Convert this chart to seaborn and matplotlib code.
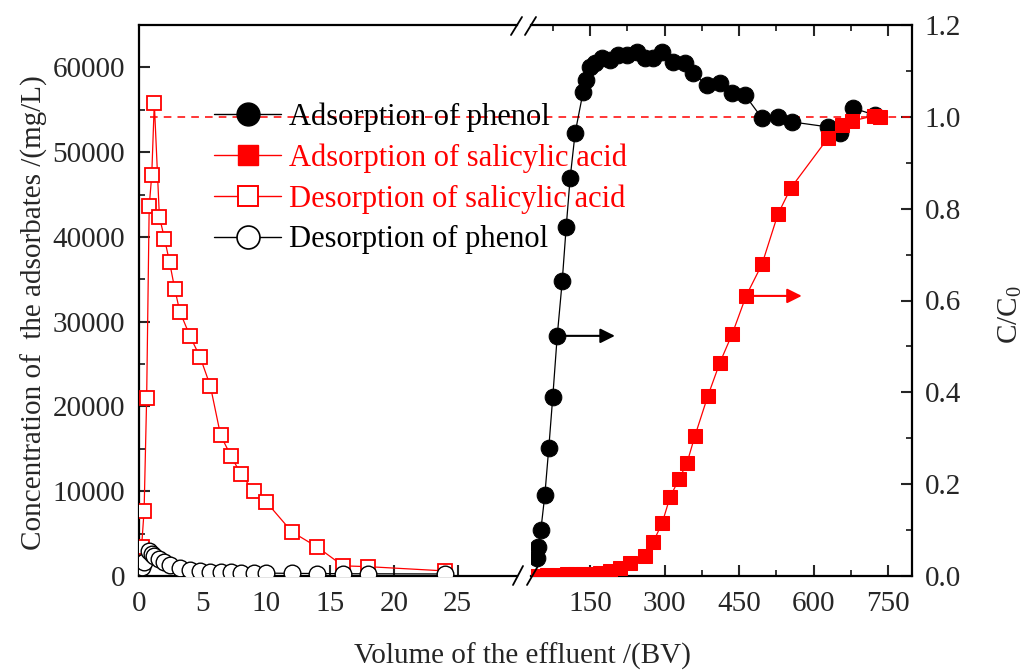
import matplotlib
matplotlib.use("Agg")
import matplotlib.pyplot as plt
import seaborn as sns
from matplotlib.lines import Line2D
from matplotlib.ticker import MultipleLocator, FormatStrFormatter

# ---------------- data ----------------
# Desorption (left axis, concentration mg/L), x in BV (0-30 segment)
des_sal_bv = [0.2, 0.4, 0.6, 0.8, 1.0, 1.2, 1.6, 2.0, 2.4, 2.8, 3.2, 4.0, 4.8, 5.6, 6.4,
              7.2, 8.0, 9.0, 10, 12, 14, 16, 18, 24]
des_sal = [3400, 7700, 21000, 43600, 47300, 55800, 42400, 39800, 37000, 33900, 31200,
           28300, 25800, 22400, 16600, 14200, 12000, 10000, 8700, 5200, 3400, 1200, 1100, 600]

des_phe_bv = [0.2, 0.4, 0.8, 1.0, 1.2, 1.6, 2.0, 2.4, 3.2, 4.0, 4.8, 5.6, 6.4, 7.2, 8.0,
              9.0, 10, 12, 14, 16, 18, 24]
des_phe = [1100, 1600, 2900, 2600, 2400, 2000, 1600, 1300, 950, 750, 600, 520, 460, 420,
           390, 360, 340, 310, 290, 270, 260, 240]

# Adsorption (right axis, C/C0), x in BV (30-800 segment)
ads_phe_bv = [43, 45, 51, 59, 67, 75, 84, 94, 102, 110, 120, 136, 142, 150, 160, 174, 190,
              206, 224, 244, 261, 277, 295, 317, 341, 357, 385, 411, 436, 462, 496, 528,
              556, 629, 653, 679, 723]
ads_phe = [0.039, 0.063, 0.100, 0.176, 0.279, 0.390, 0.523, 0.642, 0.760, 0.867, 0.965,
           1.054, 1.080, 1.108, 1.117, 1.128, 1.124, 1.135, 1.135, 1.141, 1.128, 1.128,
           1.141, 1.119, 1.117, 1.095, 1.069, 1.074, 1.052, 1.047, 0.997, 0.999, 0.989,
           0.978, 0.965, 1.019, 1.004]

ads_sal_bv = [40, 63, 84, 104, 120, 136, 150, 170, 190, 210, 230, 261, 277, 295, 311, 329,
              345, 361, 387, 411, 436, 464, 496, 528, 554, 629, 657, 677, 721, 733]
ads_sal = [0.001, 0.002, 0.003, 0.004, 0.004, 0.004, 0.005, 0.007, 0.011, 0.017, 0.028,
           0.044, 0.074, 0.115, 0.172, 0.211, 0.246, 0.305, 0.392, 0.464, 0.527, 0.610,
           0.679, 0.788, 0.845, 0.954, 0.982, 0.991, 1.002, 1.000]

ref_level = 1.0
arrow_phe = (84, 0.523, 200)
arrow_sal = (464, 0.610, 576)

labels = ["Adsorption of phenol", "Adsorption of salicylic acid",
          "Desorption of salicylic acid", "Desorption of phenol"]

# ---------------- style ----------------
sns.set_style("ticks")
plt.rcParams["font.family"] = ["Liberation Serif", "DejaVu Serif"]
plt.rcParams["mathtext.fontset"] = "custom"
plt.rcParams["mathtext.rm"] = "Liberation Serif"
plt.rcParams["mathtext.it"] = "Liberation Serif:italic"

W, H = 1032, 672
RED = "#ff0000"
FS = 21

fig = plt.figure(figsize=(W / 100, H / 100), dpi=100)
ax1 = fig.add_axes([139 / W, 1 - 576 / H, (517 - 139) / W, 551 / H])
ax2 = fig.add_axes([531 / W, 1 - 576 / H, (912 - 531) / W, 551 / H])
ax1r = ax1.twinx()

# ---------------- left segment ----------------
sns.lineplot(x=des_sal_bv, y=des_sal, ax=ax1, color=RED, linewidth=0.9, marker="s",
             markersize=10.5, markerfacecolor="white", markeredgecolor=RED,
             markeredgewidth=1.3, sort=False, estimator=None, zorder=3)
sns.lineplot(x=des_phe_bv, y=des_phe, ax=ax1, color="black", linewidth=0.9, marker="o",
             markersize=12, markerfacecolor="white", markeredgecolor="black",
             markeredgewidth=1.0, sort=False, estimator=None, zorder=4)
ax1.set_xlim(0, 29.65)
ax1.set_ylim(0, 65000)
ax1.set_xticks([0, 5, 10, 15, 20, 25])
ax1.set_yticks(range(0, 60001, 10000))
ax1.yaxis.set_minor_locator(MultipleLocator(5000))
ax1.set_xlabel("")
ax1.set_ylabel("")

ax1r.plot([0.9, 29.65], [ref_level, ref_level], color=RED, lw=1.1, ls=(0, (5, 4)))
ax1r.set_ylim(0, 1.2)
ax1r.set_axis_off()

# ---------------- right segment ----------------
sns.lineplot(x=ads_phe_bv, y=ads_phe, ax=ax2, color="black", linewidth=0.9, marker="o",
             markersize=12, markerfacecolor="black", markeredgecolor="black",
             sort=False, estimator=None, zorder=3)
sns.lineplot(x=ads_sal_bv, y=ads_sal, ax=ax2, color=RED, linewidth=0.9, marker="s",
             markersize=10.5, markerfacecolor=RED, markeredgecolor=RED,
             sort=False, estimator=None, zorder=4)
ax2.axhline(ref_level, color=RED, lw=1.1, ls=(0, (5, 4)), zorder=1)
ax2.set_xlim(31.2, 797.8)
ax2.set_ylim(0, 1.2)
ax2.set_xticks([150, 300, 450, 600, 750])
ax2.xaxis.set_minor_locator(MultipleLocator(75))
ax2.set_yticks([0, 0.2, 0.4, 0.6, 0.8, 1.0, 1.2])
ax2.yaxis.set_minor_locator(MultipleLocator(0.1))
ax2.yaxis.set_major_formatter(FormatStrFormatter("%.1f"))
ax2.yaxis.tick_right()
ax2.set_xlabel("")
ax2.set_ylabel("")

for (x0, y0, x1), col in [(arrow_phe, "black"), (arrow_sal, RED)]:
    ax2.annotate("", xy=(x1, y0), xytext=(x0, y0),
                 arrowprops=dict(arrowstyle="-|>", color=col, lw=1.5,
                                 mutation_scale=22, shrinkA=0, shrinkB=0), zorder=5)

# ---------------- spines & ticks ----------------
for ax in (ax1, ax2):
    for s in ax.spines.values():
        s.set_linewidth(1.6)
        s.set_color("black")
ax1.spines["right"].set_visible(False)
ax2.spines["left"].set_visible(False)

ax1.tick_params(axis="both", which="major", direction="in", length=8, width=1.5,
                labelsize=FS, top=False, right=False)
ax1.tick_params(axis="both", which="minor", direction="in", length=4.5, width=1.3,
                top=False, right=False)
ax1.tick_params(axis="y", pad=10)
ax1.tick_params(axis="x", pad=11)

ax2.tick_params(axis="both", which="major", direction="in", length=8, width=1.5,
                labelsize=FS, top=True, left=False, right=True, labelleft=False,
                labelright=True)
ax2.tick_params(axis="both", which="minor", direction="in", length=4.5, width=1.3,
                top=True, left=False, right=True)
ax2.tick_params(axis="y", pad=9)
ax2.tick_params(axis="x", pad=11)

# ---------------- axis break marks ----------------
def px(x, y):
    return x / W, 1 - y / H

for (xa, ya, xb, yb) in [(513, 585, 523, 566), (527, 585, 538, 566),
                         (511, 35, 522, 17), (525, 35, 536, 17)]:
    p0, p1 = px(xa, ya), px(xb, yb)
    fig.add_artist(Line2D([p0[0], p1[0]], [p0[1], p1[1]], transform=fig.transFigure,
                          color="black", lw=1.3))

# ---------------- labels ----------------
fig.text(34 / W, 1 - 313 / H, "Concentration of  the adsorbates /(mg/L)", rotation=90,
         ha="center", va="center", fontsize=FS)
fig.text(1010 / W, 1 - 315 / H, r"C/C$_\mathregular{0}$", rotation=90,
         ha="center", va="center", fontsize=FS)
fig.text(522 / W, 1 - 656 / H, "Volume of the effluent /(BV)", ha="center", va="center",
         fontsize=FS)

# ---------------- legend ----------------
LFS = 22
handles = [
    Line2D([], [], color="black", lw=1.0, marker="o", markersize=16.5,
           markerfacecolor="black", markeredgecolor="black"),
    Line2D([], [], color=RED, lw=1.0, marker="s", markersize=14.5,
           markerfacecolor=RED, markeredgecolor=RED),
    Line2D([], [], color=RED, lw=1.0, marker="s", markersize=15,
           markerfacecolor="white", markeredgecolor=RED, markeredgewidth=1.4),
    Line2D([], [], color="black", lw=1.0, marker="o", markersize=16.5,
           markerfacecolor="white", markeredgecolor="black", markeredgewidth=1.2),
]
leg = fig.legend(handles, labels, loc="upper left", bbox_to_anchor=(214 / W, 1 - 102 / H),
                 bbox_transform=fig.transFigure, frameon=False, fontsize=LFS,
                 handlelength=2.2, handletextpad=0.27, labelspacing=0.38,
                 borderpad=0, borderaxespad=0)
for t, c in zip(leg.get_texts(), ["black", RED, RED, "black"]):
    t.set_color(c)

fig.savefig("out.png", dpi=100)
